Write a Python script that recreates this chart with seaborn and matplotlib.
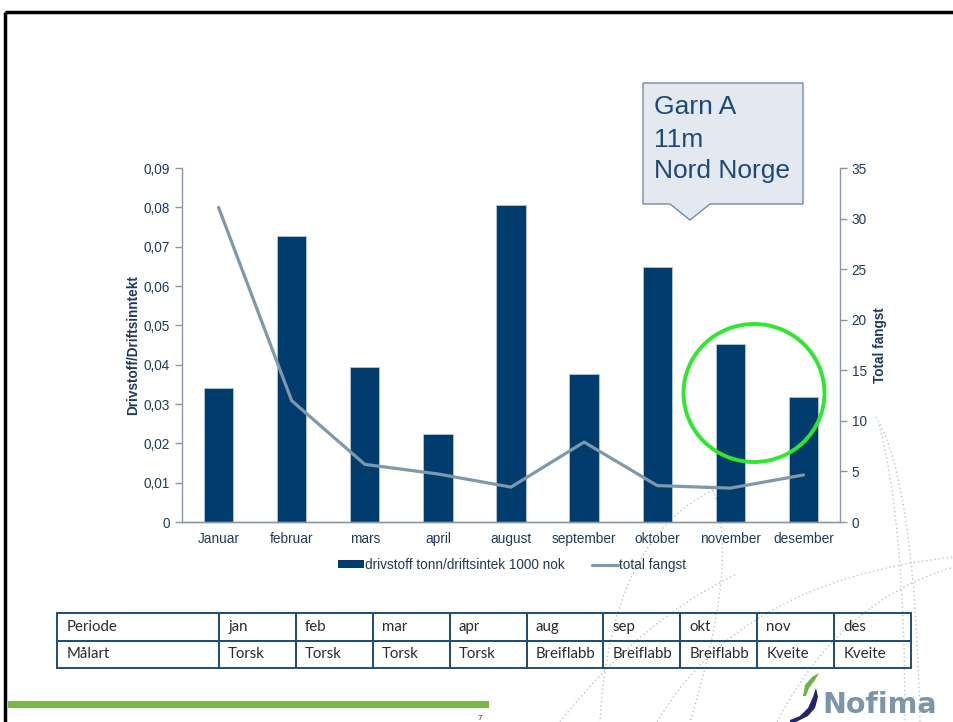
import numpy as np
import pandas as pd
import seaborn as sns
import matplotlib.pyplot as plt
from matplotlib.patches import Polygon, Ellipse, Patch, PathPatch
from matplotlib.lines import Line2D
from matplotlib.path import Path
from matplotlib.ticker import FuncFormatter, MultipleLocator, FixedLocator

# data
months = ["Januar", "februar", "mars", "april", "august",
          "september", "oktober", "november", "desember"]
drivstoff = [0.0341, 0.0727, 0.0394, 0.0224, 0.0806, 0.0376, 0.0648, 0.0453, 0.0318]
total_fangst = [31.1, 12.0, 5.7, 4.75, 3.45, 7.9, 3.6, 3.35, 4.65]

periode = ["jan", "feb", "mar", "apr", "aug", "sep", "okt", "nov", "des"]
malart = ["Torsk", "Torsk", "Torsk", "Torsk", "Breiflabb",
          "Breiflabb", "Breiflabb", "Kveite", "Kveite"]

callout_lines = ["Garn A", "11m", "Nord Norge"]

W, H = 954, 722
NAVY = "#003c6e"
LINE = "#7f98aa"
AXC = "#8c96aa"
TXT = "#1f3a5f"

sns.set_style("white")
plt.rcParams["font.family"] = ["Liberation Sans", "DejaVu Sans"]

fig = plt.figure(figsize=(W / 100, H / 100), dpi=100)


def px_axes(zorder):
    a = fig.add_axes([0, 0, 1, 1], zorder=zorder)
    a.set_xlim(0, W)
    a.set_ylim(H, 0)
    a.axis("off")
    a.patch.set_alpha(0)
    return a


# background decoration (dotted globe arcs)
bg = px_axes(0)
arcs = [
    [(876, 417), (915, 480), (920, 722)],
    [(879, 425), (905, 520), (905, 722)],
    [(713, 490), (610, 540), (600, 722)],
    [(713, 490), (740, 560), (690, 722)],
    [(657, 722), (740, 580), (954, 557)],
    [(777, 722), (840, 600), (954, 567)],
    [(735, 575), (640, 620), (560, 722)],
]
for pts in arcs:
    path = Path(pts, [Path.MOVETO, Path.CURVE3, Path.CURVE3])
    bg.add_patch(PathPatch(path, fill=False, ec="#b4c6d2", lw=1, ls=(0, (1, 2))))

# main chart
ax = fig.add_axes([182 / W, (H - 522) / H, 658 / W, 354 / H], zorder=2)
ax.patch.set_alpha(0)
df = pd.DataFrame({"month": months, "drivstoff": drivstoff, "fangst": total_fangst})
sns.barplot(data=df, x="month", y="drivstoff", color=NAVY, width=0.4,
            edgecolor="#b8c6d6", linewidth=0.6, saturation=1, ax=ax)
ax.set_ylim(0, 0.09)
ax.set_xlim(-0.5, len(months) - 0.5)
ax.yaxis.set_major_locator(MultipleLocator(0.01))
ax.yaxis.set_major_formatter(FuncFormatter(
    lambda v, p: "0" if abs(v) < 1e-9 else f"{v:.2f}".replace(".", ",")))
ax.set_xlabel("")
ax.set_ylabel("Drivstoff/Driftsinntekt", fontsize=9.8, fontweight="bold",
              color=TXT, labelpad=3)

ax2 = ax.twinx()
sns.lineplot(x=np.arange(len(months)), y=df["fangst"], color=LINE, lw=2.3, ax=ax2)
ax2.set_ylim(0, 35)
ax2.yaxis.set_major_locator(MultipleLocator(5))
ax2.set_ylabel("Total fangst", fontsize=9.8, fontweight="bold", color=TXT, labelpad=4)

for a in (ax, ax2):
    for s in a.spines.values():
        s.set_color(AXC)
        s.set_linewidth(1)
    a.spines["top"].set_visible(False)
    a.tick_params(axis="y", colors=AXC, labelcolor=TXT, labelsize=9.8,
                  length=5, direction="out", width=1)
ax2.spines["left"].set_visible(False)
ax.spines["right"].set_visible(False)
ax.tick_params(axis="x", which="major", length=0, labelsize=9.8,
               labelcolor=TXT, pad=7)
ax.xaxis.set_minor_locator(FixedLocator(np.arange(-0.5, len(months), 1.0)))
ax.tick_params(axis="x", which="minor", length=5, color=AXC, width=1, direction="out")

handles = [Patch(facecolor=NAVY, edgecolor="none"),
           Line2D([0], [0], color=LINE, lw=2.3)]
fig.legend(handles, ["drivstoff tonn/driftsintek 1000 nok", "total fangst"],
           loc="center", bbox_to_anchor=(512 / W, 1 - 565 / H), ncol=2,
           frameon=False, fontsize=9.8, handlelength=1.9, handleheight=0.55,
           handletextpad=0.1, columnspacing=2.0, labelcolor=TXT)

# table
tab_ax = fig.add_axes([57 / W, (H - 668) / H, 854 / W, 55 / H], zorder=2)
tab_ax.axis("off")
first_w = 162 / 854
other_w = (1 - first_w) / len(periode)
tbl = tab_ax.table(cellText=[["Periode"] + periode, ["Målart"] + malart],
                   colWidths=[first_w] + [other_w] * len(periode),
                   cellLoc="left", bbox=[0, 0, 1, 1])
tbl.auto_set_font_size(False)
for (r, c), cell in tbl.get_celld().items():
    cell.set_edgecolor("#1f4e79")
    cell.set_linewidth(1.4)
    cell.set_facecolor("none")
    cell.PAD = 0.12 if c > 0 else 0.12 * other_w / first_w
    cell.get_text().set_fontsize(10.8)
    cell.get_text().set_color("#2b2b2b")
    cell.get_text().set_fontfamily("Lato")

# overlay: slide frame, callout, highlight circle, footer
ov = px_axes(5)
ov.plot([5, W], [12, 12], color="black", lw=2.5, solid_capstyle="butt")
ov.plot([5, 5], [12, H], color="black", lw=2.5, solid_capstyle="butt")

box = [(643, 83), (803, 83), (803, 204), (710, 204), (690, 220), (670, 204), (643, 204)]
ov.add_patch(Polygon(box, closed=True, fc="#e4e9ef", ec="#6d8db0", lw=1))
for i, txt in enumerate(callout_lines):
    ov.text(654, [114, 147, 178][i], txt, fontsize=19, color="#1c4a78", va="baseline")

ov.add_patch(Ellipse((754, 393), 141, 138, fill=False, ec="#2ee82e", lw=2.8))

ov.add_patch(Polygon([(8, 701), (489, 701), (489, 708), (8, 708)], closed=True,
                     fc="#7ab648", ec="none"))
ov.text(480, 719, "7", fontsize=6, color="#333333", ha="center", va="center")

# Nofima logo
ov.add_patch(Polygon([(790, 720), (800, 716), (808, 708), (813, 697), (816, 688),
                      (818, 697), (815, 708), (808, 716), (796, 722), (790, 722)],
                     closed=True, fc="#24246e", ec="none"))
ov.add_patch(Polygon([(803, 696), (805, 685), (812, 677), (819, 673),
                      (815, 680), (809, 688), (806, 696)],
                     closed=True, fc="#6cb33f", ec="none"))
ov.text(822, 713, "Nofima", fontsize=20.5, fontweight="bold", color="#7b96a8",
        va="baseline", fontfamily="DejaVu Sans")

fig.savefig("out.png", dpi=100)
